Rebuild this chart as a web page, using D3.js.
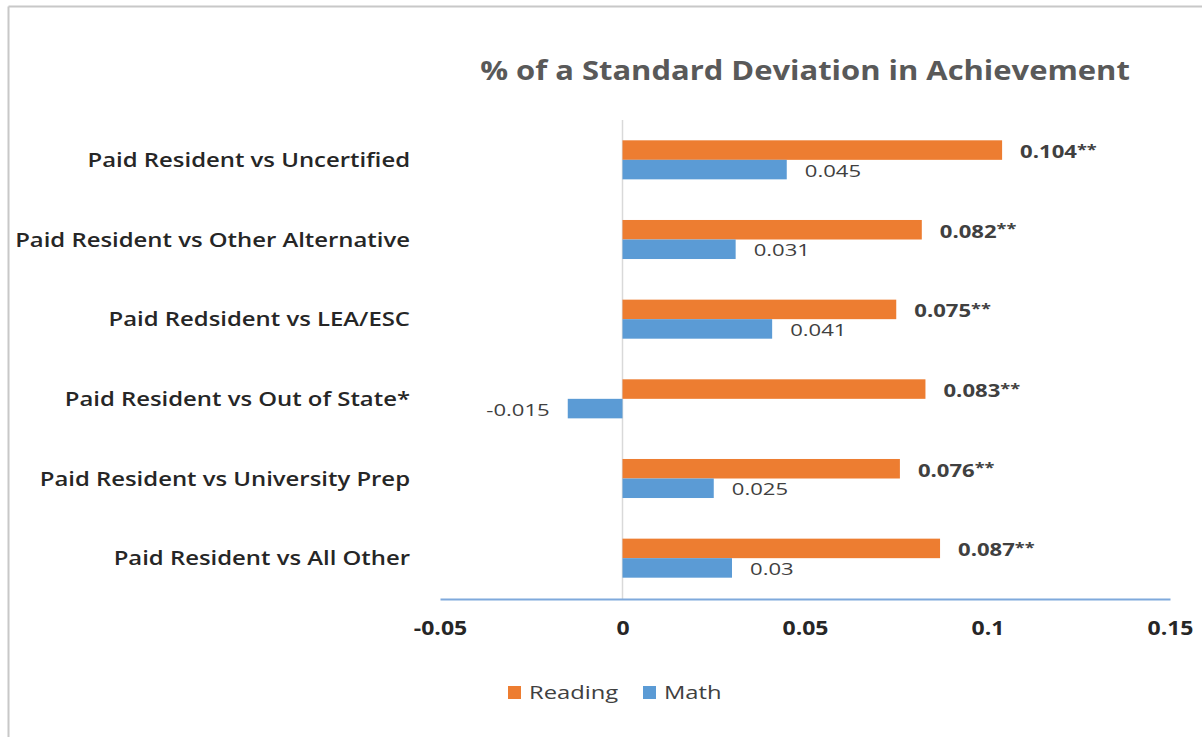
<!DOCTYPE html>
<html><head><meta charset="utf-8">
<script src="https://cdn.jsdelivr.net/npm/d3@7"></script>
<style>body{margin:0;background:#fff}svg{display:block}</style>
</head><body>
<svg id="c" width="1202" height="737"></svg>
<script>
const categories = ["Paid Resident vs Uncertified","Paid Resident vs Other Alternative","Paid Redsident vs LEA/ESC","Paid Resident vs Out of State*","Paid Resident vs University Prep","Paid Resident vs All Other"];
const reading = [0.104,0.082,0.075,0.083,0.076,0.087];
const math = [0.045,0.031,0.041,-0.015,0.025,0.03];
const readingLabels = ["0.104","0.082","0.075","0.083","0.076","0.087"];
const mathLabels = ["0.045","0.031","0.041","-0.015","0.025","0.03"];
const xTicks = [-0.05,0,0.05,0.1,0.15];
const xTickLabels = ["-0.05","0","0.05","0.1","0.15"];
const seriesNames = ["Reading","Math"];
const colors = {Reading:"#ED7D31", Math:"#5B9BD5"};
const font = "'Open Sans', 'Noto Sans', sans-serif";
const SX = 1.195; // horizontal stretch to mimic wide rendering

const svg = d3.select("#c");
svg.append("line").attr("x1",8.5).attr("x2",1202).attr("y1",6.5).attr("y2",6.5).attr("stroke","#c8c8c8").attr("stroke-width",2);
svg.append("line").attr("x1",8.5).attr("x2",8.5).attr("y1",6.5).attr("y2",737).attr("stroke","#c8c8c8").attr("stroke-width",2);

const x = d3.scaleLinear().domain([-0.05,0.15]).range([440,1170]);
const y = d3.scaleBand().domain(categories).range([120,598]);
const bh = y.bandwidth()*0.245;

function txt(parent, px, py, sx){
  return parent.append("text").attr("transform",`translate(${px},${py}) scale(${sx},1)`).attr("font-family",font);
}

txt(svg,805,80,1.19).attr("text-anchor","middle")
  .attr("font-weight",700).attr("font-size",26).attr("fill","#595959")
  .text("% of a Standard Deviation in Achievement");

svg.append("line").attr("x1",x(0)).attr("x2",x(0)).attr("y1",120).attr("y2",599).attr("stroke","#d9d9d9").attr("stroke-width",1.5);

const g = svg.append("g");
categories.forEach((c,i)=>{
  const cy = y(c)+y.bandwidth()/2;
  g.append("rect").attr("x",x(Math.min(0,reading[i]))).attr("width",Math.abs(x(reading[i])-x(0)))
    .attr("y",cy-bh).attr("height",bh).attr("fill",colors.Reading);
  g.append("rect").attr("x",x(Math.min(0,math[i]))).attr("width",Math.abs(x(math[i])-x(0)))
    .attr("y",cy).attr("height",bh).attr("fill",colors.Math);
  const rt = txt(g, x(reading[i])+18, cy-bh/2+2, 1.3).attr("dy","0.35em")
    .attr("font-weight",700).attr("font-size",17).attr("fill","#404040");
  rt.append("tspan").text(readingLabels[i]);
  rt.append("tspan").attr("font-size",14).attr("dy","-0.25em").text("**");
  const pos = math[i]>=0;
  txt(g, pos? x(math[i])+18 : x(math[i])-18, cy+bh/2+1, 1.3).attr("dy","0.35em")
    .attr("text-anchor",pos?"start":"end")
    .attr("font-size",17).attr("fill","#404040").text(mathLabels[i]);
  txt(g, 410, cy, SX).attr("dy","0.35em").attr("text-anchor","end")
    .attr("font-weight",600).attr("font-size",20).attr("fill","#262626").text(c);
});

// x axis
const ax = svg.append("g").attr("transform","translate(0,599)")
  .call(d3.axisBottom(x).tickValues(xTicks).tickSize(0).tickPadding(22).tickFormat((d,i)=>xTickLabels[i]));
ax.select(".domain").attr("stroke","#7fa9dc").attr("stroke-width",2);
ax.selectAll(".tick text").attr("font-family",font).attr("font-weight",700).attr("font-size",20)
  .attr("fill","#262626").attr("transform","scale(1.15,1)");

// legend
const leg = svg.append("g");
const legX = [508,643];
seriesNames.forEach((s,i)=>{
  leg.append("rect").attr("x",legX[i]).attr("y",686).attr("width",13).attr("height",13).attr("fill",colors[s]);
  txt(leg, legX[i]+21, 692, 1.25).attr("dy","0.35em")
    .attr("font-size",19).attr("fill","#404040").text(s);
});
</script>
</body></html>
